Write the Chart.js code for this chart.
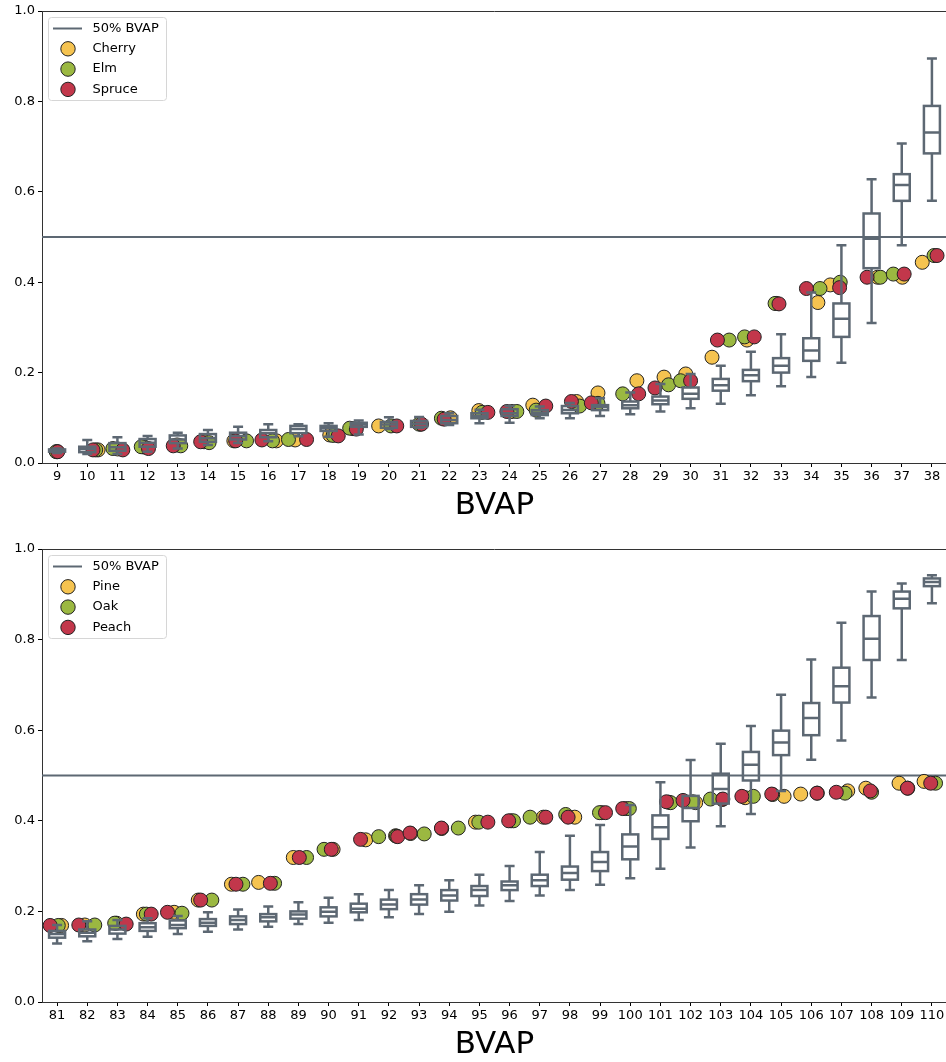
<!DOCTYPE html>
<html>
<head>
<meta charset="utf-8">
<script src="https://cdn.jsdelivr.net/npm/chart.js@4.4.1/dist/chart.umd.min.js"></script>
<style>
  html, body { margin: 0; padding: 0; background: #fff; overflow: hidden; }
  #wrap { position: relative; width: 946px; height: 1062px; overflow: hidden; }
  canvas { position: absolute; left: 0; }
  #topChart { top: 0; }
  #bottomChart { top: 538px; }
</style>
</head>
<body>
<div id="wrap">
  <canvas id="topChart" width="955" height="530"></canvas>
  <canvas id="bottomChart" width="955" height="540"></canvas>
</div>
<script>
// ---- top panel data ----
const topCats = [9, 10, 11, 12, 13, 14, 15, 16, 17, 18, 19, 20, 21, 22, 23, 24, 25, 26, 27, 28, 29, 30, 31, 32, 33, 34, 35, 36, 37, 38];
const topLow  = [0.022, 0.020, 0.020, 0.025, 0.032, 0.040, 0.044, 0.048, 0.059, 0.058, 0.063, 0.075, 0.078, 0.084, 0.088, 0.089, 0.099, 0.099, 0.104, 0.108, 0.114, 0.121, 0.131, 0.150, 0.170, 0.190, 0.222, 0.310, 0.482, 0.580];
const topQ1   = [0.025, 0.024, 0.027, 0.036, 0.044, 0.047, 0.052, 0.057, 0.066, 0.071, 0.080, 0.078, 0.080, 0.088, 0.099, 0.104, 0.106, 0.110, 0.117, 0.121, 0.130, 0.142, 0.160, 0.181, 0.200, 0.226, 0.279, 0.431, 0.580, 0.685];
const topMed  = [0.027, 0.031, 0.035, 0.045, 0.052, 0.055, 0.060, 0.066, 0.075, 0.077, 0.085, 0.085, 0.087, 0.095, 0.104, 0.110, 0.111, 0.117, 0.124, 0.128, 0.138, 0.153, 0.172, 0.194, 0.215, 0.249, 0.319, 0.496, 0.615, 0.731];
const topQ3   = [0.030, 0.036, 0.044, 0.053, 0.061, 0.064, 0.067, 0.073, 0.082, 0.082, 0.089, 0.091, 0.093, 0.104, 0.110, 0.119, 0.117, 0.126, 0.128, 0.136, 0.147, 0.167, 0.186, 0.206, 0.232, 0.276, 0.353, 0.552, 0.639, 0.790];
const topHigh = [0.032, 0.051, 0.057, 0.060, 0.067, 0.073, 0.080, 0.086, 0.086, 0.088, 0.094, 0.101, 0.102, 0.110, 0.118, 0.126, 0.125, 0.133, 0.143, 0.156, 0.175, 0.197, 0.215, 0.246, 0.285, 0.377, 0.482, 0.628, 0.707, 0.895];

const cherryX = [9.0, 10.36, 11.01, 11.9, 12.98, 13.87, 14.86, 16.27, 16.89, 18.04, 18.81, 19.66, 21.05, 22.04, 22.98, 24.08, 24.77, 26.22, 26.93, 28.22, 29.12, 29.84, 30.71, 31.87, 32.85, 34.22, 34.63, 36.2, 37.02, 37.68];
const cherryY = [0.025, 0.029, 0.031, 0.035, 0.040, 0.047, 0.049, 0.049, 0.051, 0.062, 0.076, 0.082, 0.086, 0.100, 0.116, 0.114, 0.128, 0.136, 0.155, 0.182, 0.190, 0.197, 0.234, 0.272, 0.353, 0.355, 0.394, 0.411, 0.411, 0.444];
const elmX = [8.97, 10.28, 10.85, 11.79, 13.1, 14.04, 15.28, 16.14, 16.67, 18.15, 18.70, 20.07, 21.0, 21.74, 23.09, 24.24, 24.88, 26.32, 26.93, 27.75, 29.27, 29.67, 31.28, 31.79, 32.80, 34.29, 34.96, 36.29, 36.72, 38.07];
const elmY = [0.025, 0.029, 0.032, 0.036, 0.038, 0.045, 0.049, 0.049, 0.052, 0.061, 0.077, 0.082, 0.086, 0.099, 0.112, 0.114, 0.117, 0.126, 0.132, 0.153, 0.173, 0.182, 0.272, 0.279, 0.353, 0.386, 0.400, 0.411, 0.418, 0.459];
const spruceX = [9.02, 10.19, 11.18, 12.03, 12.85, 13.76, 14.92, 15.79, 17.27, 18.32, 18.92, 20.26, 21.08, 21.83, 23.28, 23.91, 25.2, 26.05, 26.71, 28.28, 28.82, 30.0, 30.89, 32.11, 32.93, 33.84, 34.94, 35.85, 37.08, 38.17];
const spruceY = [0.025, 0.029, 0.029, 0.032, 0.038, 0.047, 0.049, 0.051, 0.052, 0.060, 0.075, 0.082, 0.086, 0.097, 0.112, 0.114, 0.126, 0.136, 0.133, 0.153, 0.166, 0.182, 0.272, 0.279, 0.352, 0.386, 0.388, 0.411, 0.418, 0.459];

// ---- bottom panel data ----
const botCats = [81, 82, 83, 84, 85, 86, 87, 88, 89, 90, 91, 92, 93, 94, 95, 96, 97, 98, 99, 100, 101, 102, 103, 104, 105, 106, 107, 108, 109, 110];
const botLow  = [0.129, 0.134, 0.139, 0.144, 0.150, 0.155, 0.160, 0.166, 0.172, 0.175, 0.181, 0.187, 0.194, 0.199, 0.213, 0.223, 0.235, 0.247, 0.259, 0.273, 0.294, 0.341, 0.388, 0.415, 0.466, 0.535, 0.577, 0.672, 0.755, 0.880];
const botQ1   = [0.142, 0.145, 0.151, 0.157, 0.163, 0.168, 0.172, 0.178, 0.184, 0.189, 0.198, 0.205, 0.215, 0.224, 0.234, 0.247, 0.256, 0.270, 0.289, 0.315, 0.360, 0.399, 0.438, 0.489, 0.545, 0.589, 0.661, 0.755, 0.869, 0.918];
const botMed  = [0.150, 0.153, 0.160, 0.165, 0.170, 0.175, 0.181, 0.187, 0.193, 0.199, 0.206, 0.215, 0.226, 0.235, 0.247, 0.258, 0.269, 0.285, 0.309, 0.343, 0.386, 0.428, 0.470, 0.524, 0.573, 0.627, 0.697, 0.802, 0.890, 0.927];
const botQ3   = [0.157, 0.160, 0.168, 0.174, 0.180, 0.183, 0.189, 0.194, 0.200, 0.209, 0.217, 0.226, 0.238, 0.247, 0.256, 0.266, 0.281, 0.299, 0.331, 0.370, 0.412, 0.455, 0.504, 0.552, 0.599, 0.660, 0.738, 0.852, 0.906, 0.935];
const botHigh = [0.170, 0.178, 0.181, 0.185, 0.190, 0.198, 0.204, 0.211, 0.220, 0.230, 0.238, 0.247, 0.258, 0.269, 0.281, 0.300, 0.331, 0.367, 0.391, 0.435, 0.485, 0.534, 0.570, 0.609, 0.678, 0.756, 0.837, 0.906, 0.924, 0.942];

const pineX = [81.15, 81.92, 82.97, 83.86, 84.88, 85.68, 86.78, 87.68, 88.83, 90.15, 91.23, 92.22, 92.72, 93.75, 94.87, 96.05, 97.12, 98.16, 99.05, 99.85, 101.28, 102.17, 103.05, 103.81, 105.1, 105.65, 107.21, 107.81, 108.91, 109.74];
const pineY = [0.169, 0.170, 0.174, 0.194, 0.198, 0.225, 0.260, 0.264, 0.319, 0.337, 0.358, 0.367, 0.372, 0.383, 0.397, 0.400, 0.408, 0.408, 0.418, 0.427, 0.441, 0.440, 0.447, 0.451, 0.454, 0.459, 0.466, 0.472, 0.483, 0.487];
const oakX = [81.04, 82.25, 82.91, 83.96, 85.14, 86.13, 87.16, 88.21, 89.27, 89.85, 91.66, 92.25, 93.17, 94.30, 94.98, 96.13, 96.68, 97.86, 98.98, 99.97, 101.34, 102.08, 102.66, 104.08, 104.72, 106.2, 107.12, 108.0, 109.2, 110.12];
const oakY = [0.169, 0.170, 0.174, 0.194, 0.196, 0.225, 0.260, 0.262, 0.319, 0.337, 0.365, 0.366, 0.371, 0.384, 0.397, 0.400, 0.408, 0.414, 0.418, 0.427, 0.440, 0.442, 0.448, 0.454, 0.458, 0.461, 0.461, 0.463, 0.472, 0.483];
const peachX = [80.77, 81.72, 83.29, 84.12, 84.66, 85.76, 86.93, 88.07, 89.03, 90.09, 91.06, 92.29, 92.70, 93.74, 95.28, 95.97, 97.2, 97.94, 99.18, 99.75, 101.2, 101.75, 103.07, 103.70, 104.69, 106.19, 106.83, 107.96, 109.19, 109.96];
const peachY = [0.169, 0.170, 0.172, 0.194, 0.198, 0.225, 0.260, 0.262, 0.319, 0.337, 0.359, 0.365, 0.373, 0.384, 0.397, 0.400, 0.408, 0.408, 0.418, 0.427, 0.442, 0.445, 0.448, 0.454, 0.459, 0.461, 0.463, 0.466, 0.472, 0.483];

const yTicks = [0, 0.2, 0.4, 0.6, 0.8, 1.0];
const threshold = 0.5;

const GREY = '#5d6873';
const YELLOW = '#f5c350';
const GREEN = '#9bb841';
const RED = '#c2374b';
const FONT = 'DejaVu Sans';

// draws box + whiskers for each category, on top of the points
const boxPlugin = {
    id: 'boxes',
    afterDatasetsDraw(chart, args, opts) {
        const ctx = chart.ctx;
        const xs = chart.scales.x, ys = chart.scales.y;
        const half = 8, cap = 5;
        ctx.save();
        ctx.strokeStyle = GREY;
        ctx.lineWidth = 2.5;
        opts.cats.forEach((c, i) => {
            const cx = xs.getPixelForValue(c);
            const lo = ys.getPixelForValue(opts.low[i]);
            const q1 = ys.getPixelForValue(opts.q1[i]);
            const md = ys.getPixelForValue(opts.med[i]);
            const q3 = ys.getPixelForValue(opts.q3[i]);
            const hi = ys.getPixelForValue(opts.high[i]);
            ctx.beginPath();
            ctx.moveTo(cx, q1); ctx.lineTo(cx, lo);
            ctx.moveTo(cx - cap, lo); ctx.lineTo(cx + cap, lo);
            ctx.moveTo(cx, q3); ctx.lineTo(cx, hi);
            ctx.moveTo(cx - cap, hi); ctx.lineTo(cx + cap, hi);
            ctx.moveTo(cx - half, md); ctx.lineTo(cx + half, md);
            ctx.stroke();
            ctx.strokeRect(cx - half, q3, half * 2, q1 - q3);
        });
        ctx.restore();
    }
};

// top spine + legend box in the upper left
const framePlugin = {
    id: 'frame',
    afterDraw(chart) {
        const ctx = chart.ctx;
        const a = chart.chartArea;
        ctx.save();
        ctx.strokeStyle = '#333';
        ctx.lineWidth = 1;
        ctx.beginPath();
        ctx.moveTo(a.left, a.top + 0.5);
        ctx.lineTo(a.right, a.top + 0.5);
        ctx.moveTo(a.right - 0.5, a.top);
        ctx.lineTo(a.right - 0.5, a.bottom);
        ctx.stroke();

        // legend
        const lx = a.left + 6, ly = a.top + 6;
        ctx.fillStyle = 'rgba(255,255,255,0.85)';
        ctx.strokeStyle = '#d6d6d6';
        ctx.beginPath();
        ctx.roundRect(lx + 0.5, ly + 0.5, 118, 83, 3);
        ctx.fill();
        ctx.stroke();

        ctx.font = '13px ' + FONT;
        ctx.textBaseline = 'middle';
        chart.data.datasets.forEach((ds, i) => {
            const ry = ly + 11.5 + i * 20.3;
            if (ds.showLine) {
                ctx.strokeStyle = ds.borderColor;
                ctx.lineWidth = 2;
                ctx.beginPath();
                ctx.moveTo(lx + 5, ry);
                ctx.lineTo(lx + 34, ry);
                ctx.stroke();
            } else {
                ctx.fillStyle = ds.backgroundColor;
                ctx.strokeStyle = '#222';
                ctx.lineWidth = 1;
                ctx.beginPath();
                ctx.arc(lx + 20, ry, 7.2, 0, Math.PI * 2);
                ctx.fill();
                ctx.stroke();
            }
            ctx.fillStyle = '#000';
            ctx.fillText(ds.label, lx + 44.5, ry);
        });
        ctx.restore();
    }
};

function pts(xs, ys) {
    return xs.map((x, i) => ({ x: x, y: ys[i] }));
}

function makePanel(id, cats, names, series, box, axisHeight, titlePad) {
    const lo = cats[0] - 0.5, hi = cats[cats.length - 1] + 0.5;
    const colors = [YELLOW, GREEN, RED];
    const datasets = [{
        label: '50% BVAP',
        data: [{ x: lo, y: threshold }, { x: hi, y: threshold }],
        showLine: true,
        borderColor: GREY,
        borderWidth: 2,
        pointRadius: 0,
        order: 5
    }];
    series.forEach((s, i) => {
        datasets.push({
            label: names[i],
            data: pts(s[0], s[1]),
            backgroundColor: colors[i],
            borderColor: '#222',
            borderWidth: 1,
            pointRadius: 7,
            order: 4 - i
        });
    });

    return new Chart(document.getElementById(id), {
        type: 'scatter',
        data: { datasets: datasets },
        options: {
            responsive: false,
            animation: false,
            events: [],
            devicePixelRatio: 1,
            layout: { padding: { top: 11, right: 1, left: 0, bottom: 0 } },
            plugins: {
                legend: { display: false },
                tooltip: { enabled: false },
                boxes: box
            },
            scales: {
                x: {
                    type: 'linear',
                    min: lo,
                    max: hi,
                    afterBuildTicks: s => { s.ticks = cats.map(v => ({ value: v })); },
                    afterFit: s => { s.height = axisHeight; },
                    ticks: {
                        callback: v => String(v),
                        color: '#000',
                        font: { family: FONT, size: 13 },
                        padding: 2,
                        maxRotation: 0,
                        autoSkip: false
                    },
                    grid: { drawOnChartArea: false, tickLength: 4, tickColor: '#000' },
                    border: { color: '#333', width: 1 },
                    title: {
                        display: true,
                        text: 'BVAP',
                        color: '#000',
                        font: { family: FONT, size: 31 },
                        padding: { top: 0, bottom: titlePad }
                    }
                },
                y: {
                    min: 0,
                    max: 1,
                    afterBuildTicks: s => { s.ticks = yTicks.map(v => ({ value: v })); },
                    afterFit: s => { s.width = 42; },
                    ticks: {
                        callback: v => v.toFixed(1),
                        color: '#000',
                        font: { family: FONT, size: 13 },
                        padding: 3
                    },
                    grid: { drawOnChartArea: false, tickLength: 4, tickColor: '#000' },
                    border: { color: '#333', width: 1 }
                }
            }
        },
        plugins: [boxPlugin, framePlugin]
    });
}

makePanel('topChart', topCats, ['Cherry', 'Elm', 'Spruce'],
    [[cherryX, cherryY], [elmX, elmY], [spruceX, spruceY]],
    { cats: topCats, low: topLow, q1: topQ1, med: topMed, q3: topQ3, high: topHigh },
    67, 5.4);

makePanel('bottomChart', botCats, ['Pine', 'Oak', 'Peach'],
    [[pineX, pineY], [oakX, oakY], [peachX, peachY]],
    { cats: botCats, low: botLow, q1: botQ1, med: botMed, q3: botQ3, high: botHigh },
    76, 14.4);
</script>
</body>
</html>
